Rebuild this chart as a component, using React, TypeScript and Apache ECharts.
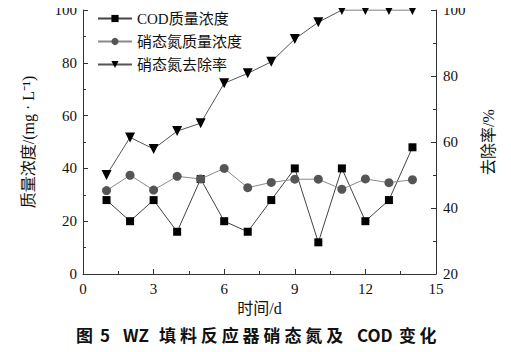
import React, { useEffect, useRef } from "react";
import * as echarts from "echarts";

const days = [1, 2, 3, 4, 5, 6, 7, 8, 9, 10, 11, 12, 13, 14];
const codValues = [28, 20, 28, 16, 36, 20, 16, 28, 40, 12, 40, 20, 28, 48];
const nitrateValues = [31.6, 37.4, 31.8, 37, 36, 40, 32.7, 34.7, 35.9, 35.9, 32.1, 36, 34.6, 35.7];
const removalValues = [50, 61.4, 57.9, 63.3, 65.7, 77.8, 80.8, 84.3, 91.2, 96.3, 100, 100, 100, 100];
const xTicks = [0, 3, 6, 9, 12, 15];
const seriesNames = ["COD质量浓度", "硝态氮质量浓度", "硝态氮去除率"];
const captionRuns: [string, number, number][] = [
  ["图", 76, 0],
  ["5", 100, 0],
  ["WZ", 123, 0],
  ["填料反应器硝态氮及", 159, 20.9],
  ["COD", 357, 0],
  ["变化", 399, 20.5],
];

const SERIF = "Liberation Serif, Times New Roman, Noto Sans CJK SC, serif";
const SANS = "Noto Sans CJK SC, Liberation Sans, sans-serif";

export default function App() {
  const ref = useRef<HTMLDivElement>(null);
  useEffect(() => {
    if (!ref.current) return;
    const chart = echarts.init(ref.current, null, { renderer: "svg" });
    const pair = (vals: number[]) => days.map((d, i) => [d, vals[i]]);
    const axisCommon = {
      axisLine: { show: true, lineStyle: { color: "#333", width: 1 } },
      axisTick: { show: true, inside: true, length: 5, lineStyle: { color: "#333" } },
      minorTick: { show: true, splitNumber: 2, length: 3, lineStyle: { color: "#333" } },
      splitLine: { show: false },
      axisLabel: { fontFamily: SERIF, fontSize: 15, color: "#111" },
      nameTextStyle: { fontFamily: SERIF, fontSize: 16, color: "#111" },
    };
    const captionEls: any[] = [];
    captionRuns.forEach(([txt, x0, pitch]) => {
      const parts = pitch > 0 ? Array.from(txt) : [txt];
      parts.forEach((ch, k) => {
        captionEls.push({
          type: "text",
          x: x0 + k * pitch,
          y: 334,
          style: {
            text: ch,
            fontFamily: SANS,
            fontWeight: "bold",
            fontSize: 17,
            fill: "#111",
            verticalAlign: "middle",
          },
        });
      });
    });
    chart.setOption({
      animation: false,
      backgroundColor: "#fff",
      grid: { left: 83, right: 75, top: 10, bottom: 78, containLabel: false },
      legend: {
        orient: "vertical",
        left: 92,
        top: 6,
        itemWidth: 34,
        itemHeight: 9,
        itemGap: 8,
        data: seriesNames,
        textStyle: { fontFamily: SERIF, fontSize: 15, color: "#111" },
      },
      xAxis: {
        type: "value",
        min: 0,
        max: 15,
        interval: 3,
        name: "时间/d",
        nameLocation: "middle",
        nameGap: 26,
        ...axisCommon,
        axisLabel: { ...axisCommon.axisLabel, margin: 7, customValues: xTicks },
      },
      yAxis: [
        {
          type: "value",
          min: 0,
          max: 100,
          interval: 20,
          position: "left",
          name: "质量浓度/(mg · L⁻¹)",
          nameLocation: "middle",
          nameRotate: 90,
          nameGap: 47,
          ...axisCommon,
          axisLabel: { ...axisCommon.axisLabel, margin: 6 },
        },
        {
          type: "value",
          min: 20,
          max: 100,
          interval: 20,
          position: "right",
          name: "去除率/%",
          nameLocation: "middle",
          nameRotate: 90,
          nameGap: 44,
          ...axisCommon,
          axisLabel: { ...axisCommon.axisLabel, margin: 7 },
        },
      ],
      series: [
        {
          name: seriesNames[0],
          type: "line",
          yAxisIndex: 0,
          data: pair(codValues),
          symbol: "rect",
          symbolSize: 8,
          itemStyle: { color: "#000" },
          lineStyle: { color: "#444", width: 1 },
          z: 3,
        },
        {
          name: seriesNames[1],
          type: "line",
          yAxisIndex: 0,
          data: pair(nitrateValues),
          symbol: "circle",
          symbolSize: 9,
          itemStyle: { color: "#555" },
          lineStyle: { color: "#8a8a8a", width: 1 },
          z: 4,
        },
        {
          name: seriesNames[2],
          type: "line",
          yAxisIndex: 1,
          data: pair(removalValues),
          symbol: "triangle",
          symbolRotate: 180,
          symbolSize: 10,
          itemStyle: { color: "#000" },
          lineStyle: { color: "#555", width: 1 },
          z: 3,
        },
      ],
      graphic: captionEls,
    });
    return () => chart.dispose();
  }, []);
  return <div ref={ref} style={{ width: 511, height: 352, margin: -8 }} />;
}
